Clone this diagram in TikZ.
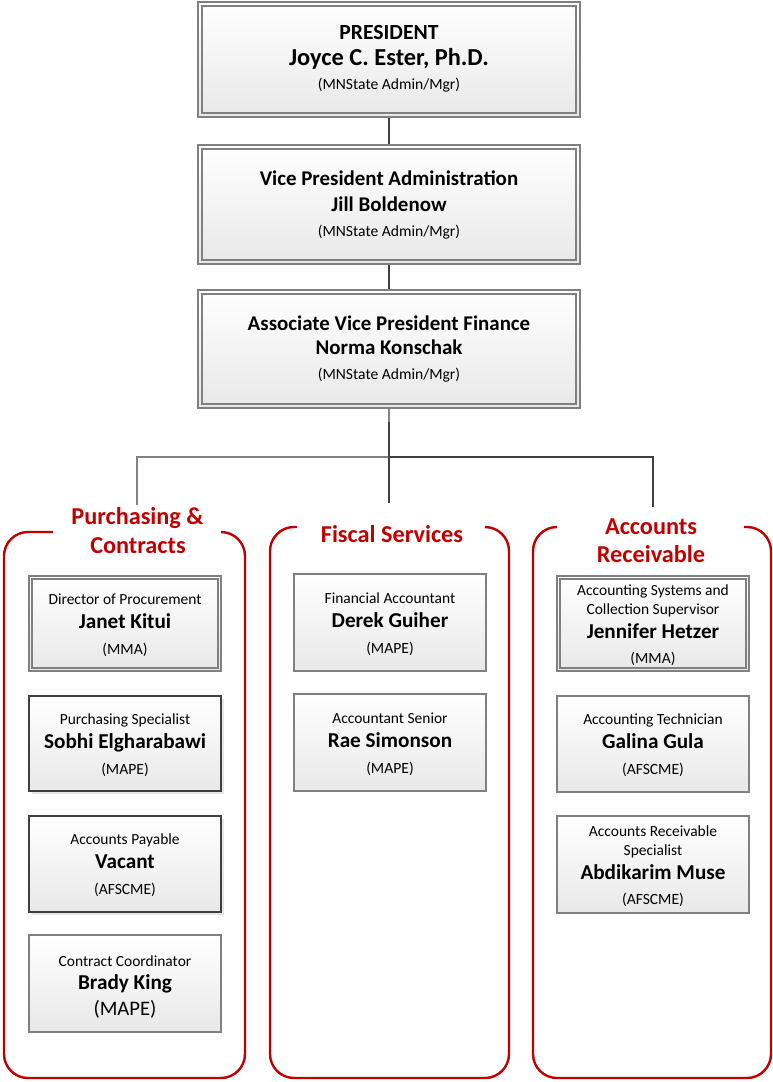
\documentclass[tikz,border=0pt]{standalone}
\usepackage{fontspec}
\setmainfont{Carlito}
\usetikzlibrary{fit,shadows}
\definecolor{redc}{RGB}{192,0,0}
\definecolor{boxgray}{RGB}{128,128,128}
\definecolor{darkline}{RGB}{64,64,64}
\definecolor{linegray}{RGB}{130,130,130}
\begin{document}
\begin{tikzpicture}[x=0.75pt,y=-0.75pt,
  box/.style={draw=boxgray, line width=1.2pt, top color=white, bottom color=black!9, inner sep=0pt},
  darkbox/.style={box, draw=darkline, drop shadow={opacity=0.2, shadow xshift=2pt, shadow yshift=-2pt}},
  innerline/.style={draw=boxgray, line width=1.2pt},
  grp/.style={draw=redc, line width=1.8pt, rounded corners=18pt},
  grptitle/.style={text=redc, font=\fontsize{18.2}{20}\selectfont\bfseries, anchor=base},
  bigttl/.style={anchor=base, font=\fontsize{15.7}{18}\selectfont\bfseries},
  ttl/.style={anchor=base, font=\fontsize{11.6}{13}\selectfont},
  nm/.style={anchor=base, font=\fontsize{15.9}{18}\selectfont\bfseries},
  un/.style={anchor=base, font=\fontsize{11.7}{13}\selectfont},
  conn/.style={draw=darkline, line width=1.5pt},
  conng/.style={draw=linegray, line width=1.5pt},
]
\useasboundingbox (0,0) rectangle (773,1082);

% ---- top boxes
\node[box, fit={(198,2) (580,117)}] (pres) {};
\draw[innerline] ([shift={(5,5)}]pres.north west) rectangle ([shift={(-5,-5)}]pres.south east);
\node[box, fit={(198,145) (580,264)}] (vp) {};
\draw[innerline] ([shift={(5,5)}]vp.north west) rectangle ([shift={(-5,-5)}]vp.south east);
\node[box, fit={(198,290) (580,408)}] (avp) {};
\draw[innerline] ([shift={(5,5)}]avp.north west) rectangle ([shift={(-5,-5)}]avp.south east);

\node[anchor=base, font=\fontsize{16.2}{18}\selectfont\bfseries] (presT) at (389,39) {PRESIDENT};
\node[anchor=base, font=\fontsize{18.3}{20}\selectfont\bfseries] (presN) at (389,65) {Joyce C. Ester, Ph.D.};
\node[un] (presU) at (389,89) {(MNState Admin/Mgr)};

\node[bigttl] (vpT) at (389,185) {Vice President Administration};
\node[bigttl] (vpN) at (389,211) {Jill Boldenow};
\node[un] (vpU) at (389,236) {(MNState Admin/Mgr)};

\node[bigttl] (avpT) at (389,330) {Associate Vice President Finance};
\node[bigttl] (avpN) at (389,354) {Norma Konschak};
\node[un] (avpU) at (389,379) {(MNState Admin/Mgr)};

% ---- connectors
\draw[conn] (pres.south) -- (vp.north);
\draw[conn] (vp.south) -- (avp.north);
\coordinate (hub) at (389,457);
\coordinate (pcTop) at (137,505);
\coordinate (fsTop) at (389,503);
\coordinate (arTop) at (653,507);
\draw[conng] (avp.south) -- (hub) -| (pcTop);
\draw[conn] ([yshift=-10pt]avp.south) -- (fsTop);
\draw[conn] (hub) -| (arTop);

% ---- group containers
\draw[grp] (53,532) -- (4,532) -- (4,1078) -- (245,1078) -- (245,532) -- (221,532);
\draw[grp] (297,527) -- (270,527) -- (270,1078) -- (509,1078) -- (509,527) -- (485,527);
\draw[grp] (557,527) -- (533,527) -- (533,1078) -- (771,1078) -- (771,527) -- (744,527);

\node[grptitle] (g1a) at (137.5,524) {Purchasing \&};
\node[grptitle] (g1b) at (138,553) {Contracts};
\node[grptitle] (g2) at (392,542) {Fiscal Services};
\node[grptitle] (g3a) at (651,534) {Accounts};
\node[grptitle] (g3b) at (651,562) {Receivable};

% ---- left column
\node[box, fit={(29,576) (221,671)}] (janet) {};
\draw[innerline] ([shift={(4,4)}]janet.north west) rectangle ([shift={(-4,-4)}]janet.south east);
\node[ttl] (janetT) at (125,604) {Director of Procurement};
\node[nm] (janetN) at (125,628) {Janet Kitui};
\node[un] (janetU) at (125,654) {(MMA)};

\node[darkbox, fit={(29,696) (221,791)}] (sobhi) {};
\node[ttl] (sobhiT) at (125,724) {Purchasing Specialist};
\node[nm] (sobhiN) at (125,748) {Sobhi Elgharabawi};
\node[un] (sobhiU) at (125,774) {(MAPE)};

\node[darkbox, fit={(29,816) (221,912)}] (vacant) {};
\node[ttl] (vacantT) at (125,844) {Accounts Payable};
\node[nm] (vacantN) at (125,868) {Vacant};
\node[un] (vacantU) at (125,894) {(AFSCME)};

\node[box, fit={(29,935) (221,1032)}] (brady) {};
\node[ttl] (bradyT) at (125,966) {Contract Coordinator};
\node[nm] (bradyN) at (125,989) {Brady King};
\node[anchor=base, font=\fontsize{15.5}{18}\selectfont] (bradyU) at (125,1015) {(MAPE)};

% ---- middle column
\node[box, fit={(294,574) (486,671)}] (derek) {};
\node[ttl] (derekT) at (390,603) {Financial Accountant};
\node[nm] (derekN) at (390,627) {Derek Guiher};
\node[un] (derekU) at (390,653) {(MAPE)};

\node[box, fit={(294,694) (486,791)}] (rae) {};
\node[ttl] (raeT) at (390,723) {Accountant Senior};
\node[nm] (raeN) at (390,747) {Rae Simonson};
\node[un] (raeU) at (390,773) {(MAPE)};

% ---- right column
\node[box, fit={(557,576) (749,671)}] (jen) {};
\draw[innerline] ([shift={(4,4)}]jen.north west) rectangle ([shift={(-4,-4)}]jen.south east);
\node[ttl] (jenT1) at (653,595) {Accounting Systems and};
\node[ttl] (jenT2) at (653,614) {Collection Supervisor};
\node[nm] (jenN) at (653,638) {Jennifer Hetzer};
\node[un] (jenU) at (653,663) {(MMA)};

\node[box, fit={(557,696) (749,792)}] (galina) {};
\node[ttl] (galinaT) at (653,724) {Accounting Technician};
\node[nm] (galinaN) at (653,748) {Galina Gula};
\node[un] (galinaU) at (653,774) {(AFSCME)};

\node[box, fit={(557,816) (749,913)}] (abdi) {};
\node[ttl] (abdiT1) at (653,836) {Accounts Receivable};
\node[ttl] (abdiT2) at (653,855) {Specialist};
\node[nm] (abdiN) at (653,879) {Abdikarim Muse};
\node[un] (abdiU) at (653,904) {(AFSCME)};
\end{tikzpicture}
\end{document}
